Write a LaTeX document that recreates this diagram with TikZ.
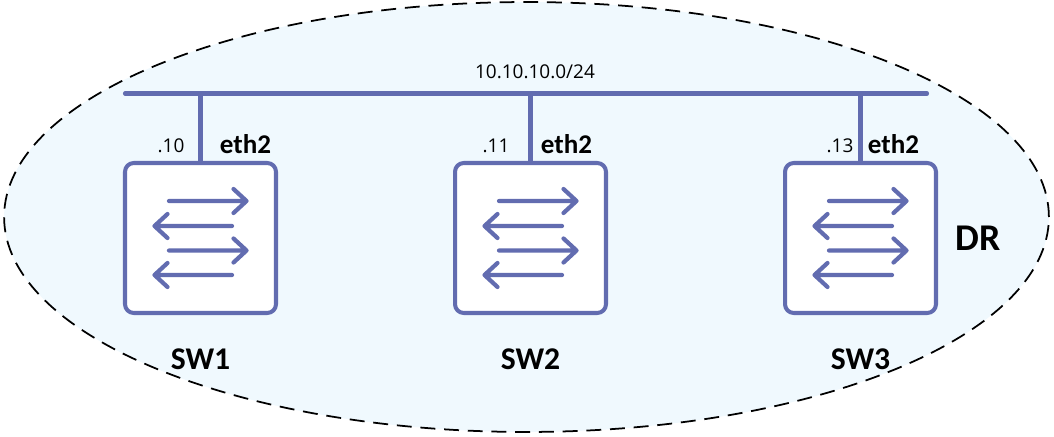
\documentclass[tikz,border=0pt]{standalone}
\usepackage{fontspec}
\setmainfont{Carlito}
\newfontfamily\addrfont{Open Sans}
\usetikzlibrary{positioning, calc, shapes}
\definecolor{swblue}{HTML}{626CB0}
\definecolor{drfill}{HTML}{F0F9FE}
\tikzset{
    swbox/.style={draw=swblue, line width=2.3pt, fill=white, rounded corners=5pt, minimum width=3.02cm, minimum height=3cm, outer sep=0pt},
    swline/.style={draw=swblue, line width=2.3pt},
    swarrow/.style={draw=swblue, line width=2.4pt, line cap=round, line join=round},
    addr/.style={font=\addrfont\fontsize{10.8}{13}\selectfont, inner sep=0pt},
    ifname/.style={font=\bfseries\fontsize{15.4}{18}\selectfont, inner sep=0pt},
    swname/.style={font=\bfseries\fontsize{18}{21}\selectfont, inner sep=0pt}
}
\begin{document}
\begin{tikzpicture}[x=0.02cm, y=-0.02cm]
    \useasboundingbox (0,0) rectangle (1054,436);
    \node[draw=black, line width=1pt, dash pattern=on 8.5pt off 5pt, fill=drfill, ellipse, minimum width=20.9cm, minimum height=8.6cm, inner sep=0pt] (dr) at (526.5,217) {};
    \coordinate (busl) at (125,93.5);
    \coordinate (busr) at (927,93.5);
    \draw[swline, line cap=round] (busl) -- (busr);
    \node[addr] (subnet) at (535,72) {10.10.10.0/24};
    \node[font=\bfseries\fontsize{21.5}{25}\selectfont, inner sep=0pt] (drname) at (978,238) {DR};
    \foreach \name/\x/\ip/\ipx/\ethx in {1/200.5/10/171/245.5, 2/530.5/11/496/566.5, 3/860.5/13/840/893.5} {
        \node[swbox] (sw\name) at (\x,238) {};
        \coordinate (drop\name) at (\x,93.5);
        \draw[swline] (drop\name) -- (sw\name.north -| drop\name);
        \node[addr] (ip\name) at (\ipx,146) {.\ip};
        \node[ifname] (eth\name) at (\ethx,144) {eth2};
        \node[swname] (name\name) at (\x,359) {SW\name};
        \begin{scope}[shift={(sw\name.center)}]
            \foreach \s/\y in {1/-37, -1/-12, 1/12.5, -1/37} {
                \draw[swarrow] (-\s*31.5,\y) -- (\s*46,\y) ++(-\s*13,-12) -- ++(\s*13,12) -- ++(-\s*13,12);
            }
        \end{scope}
    }
\end{tikzpicture}
\end{document}
